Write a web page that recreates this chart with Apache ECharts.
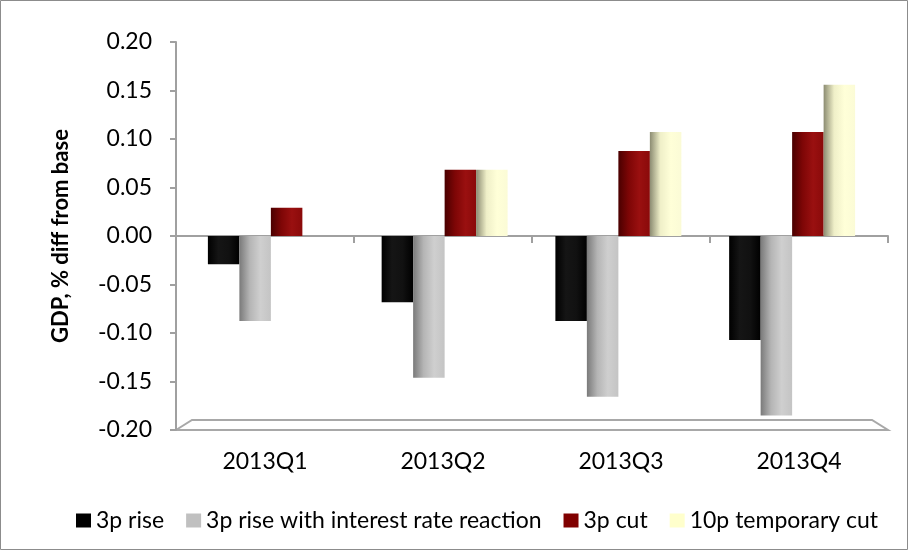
<!DOCTYPE html>
<html>
<head>
<meta charset="utf-8">
<script src="https://cdn.jsdelivr.net/npm/echarts@6/dist/echarts.min.js"></script>
<style>
  html, body { margin: 0; padding: 0; background: #fff; }
  #chart { width: 909px; height: 551px; }
</style>
</head>
<body>
<div id="chart"></div>
<script>
// Quarterly GDP response, % difference from base
const quarters = ['2013Q1', '2013Q2', '2013Q3', '2013Q4'];
const riseValues = [-0.03, -0.07, -0.09, -0.11];
const riseRateValues = [-0.09, -0.15, -0.17, -0.19];
const cutValues = [0.03, 0.07, 0.09, 0.11];
const tempCutValues = [0, 0.07, 0.11, 0.16];
const seriesNames = ['3p rise', '3p rise with interest rate reaction', '3p cut', '10p temporary cut'];
const yTicks = { min: -0.2, max: 0.2, step: 0.05 };

const FONT = 'Lato, "Open Sans", sans-serif';

function shade(stops) {
  return {
    type: 'linear', x: 0, y: 0, x2: 1, y2: 0,
    colorStops: stops.map((c, i) => ({ offset: i / (stops.length - 1), color: c }))
  };
}

const styles = [
  { fill: shade(['#000000', '#151515', '#111111', '#000000']), flat: '#000000' },
  { fill: shade(['#7a7a7a', '#b5b5b5', '#cfcfcf', '#c4c4c4']), flat: '#c0c0c0' },
  { fill: shade(['#4a0000', '#7e0606', '#9a1010', '#8a0a0a']), flat: '#800000' },
  { fill: shade(['#8c8c72', '#efefc8', '#ffffd8', '#fbfbd6']), flat: '#ffffcc' }
];
const valueSets = [riseValues, riseRateValues, cutValues, tempCutValues];

const chart = echarts.init(document.getElementById('chart'));

// Front plane carries the visible axes; the back plane (slightly smaller,
// shifted by the 3D depth) carries the columns.
const front = { left: 176, right: 21, top: 42, bottom: 121 };
const back = { left: 184, right: 30, top: 47, bottom: 126 };

const option = {
  animation: false,
  backgroundColor: '#ffffff',
  textStyle: { fontFamily: FONT },
  grid: [
    Object.assign({ containLabel: false }, front),
    Object.assign({ containLabel: false }, back)
  ],
  legend: {
    bottom: 14,
    left: 71,
    itemWidth: 15,
    itemHeight: 14,
    itemGap: 22,
    icon: 'rect',
    textStyle: { fontFamily: FONT, fontSize: 23, color: '#000' },
    data: seriesNames.map((n, i) => ({ name: n, itemStyle: { color: styles[i].flat } }))
  },
  xAxis: [
    {
      type: 'category',
      gridIndex: 0,
      data: quarters,
      position: 'bottom',
      axisLine: { onZero: true, lineStyle: { color: '#a0a0a0', width: 2 } },
      axisTick: { show: true, length: 7, lineStyle: { color: '#a0a0a0', width: 2 } },
      axisLabel: { show: false },
      splitLine: { show: false }
    },
    {
      type: 'category',
      gridIndex: 0,
      data: quarters,
      position: 'bottom',
      axisLine: { show: false, onZero: false },
      axisTick: { show: false },
      axisLabel: { show: true, margin: 20, fontFamily: FONT, fontSize: 23, color: '#000' },
      splitLine: { show: false }
    },
    {
      type: 'category',
      gridIndex: 1,
      data: quarters,
      show: false
    }
  ],
  yAxis: [
    {
      type: 'value',
      gridIndex: 0,
      min: yTicks.min,
      max: yTicks.max,
      interval: yTicks.step,
      name: 'GDP, % diff from base',
      nameLocation: 'middle',
      nameRotate: 90,
      nameGap: 104,
      nameTextStyle: { fontFamily: FONT, fontSize: 22, fontWeight: 'bold', color: '#000' },
      axisLine: { show: true, lineStyle: { color: '#a0a0a0', width: 2 } },
      axisTick: { show: true, length: 6, lineStyle: { color: '#a0a0a0', width: 2 } },
      axisLabel: {
        margin: 24,
        fontFamily: FONT, fontSize: 23, color: '#000',
        formatter: v => v.toFixed(2)
      },
      splitLine: { show: false }
    },
    {
      type: 'value',
      gridIndex: 1,
      min: yTicks.min,
      max: yTicks.max,
      interval: yTicks.step,
      show: false,
      splitLine: { show: false }
    }
  ],
  series: seriesNames.map((n, i) => ({
    name: n,
    type: 'bar',
    xAxisIndex: 2,
    yAxisIndex: 1,
    data: valueSets[i],
    barGap: '0%',
    barCategoryGap: '27.5%',
    itemStyle: { color: styles[i].fill }
  }))
};

chart.setOption(option);

// Floor slab under the columns and the outer frame, placed from the axis scale
function drawDecor() {
  const yFloor = chart.convertToPixel({ yAxisIndex: 0 }, yTicks.min);
  const x0 = front.left, x1 = 909 - front.right;
  const depth = 10, skew = 16;
  chart.setOption({
    graphic: [
      {
        type: 'polygon',
        z: -1,
        shape: { points: [[x0, yFloor], [x0 + skew, yFloor - depth], [x1 - skew, yFloor - depth], [x1, yFloor]] },
        style: { fill: '#ffffff', stroke: '#a8a8a8', lineWidth: 2 }
      },
      {
        type: 'rect',
        shape: { x: 0.5, y: 0.5, width: 907, height: 549 },
        style: { fill: 'none', stroke: '#8c8c8c', lineWidth: 1 }
      }
    ]
  });
}
drawDecor();
</script>
</body>
</html>
